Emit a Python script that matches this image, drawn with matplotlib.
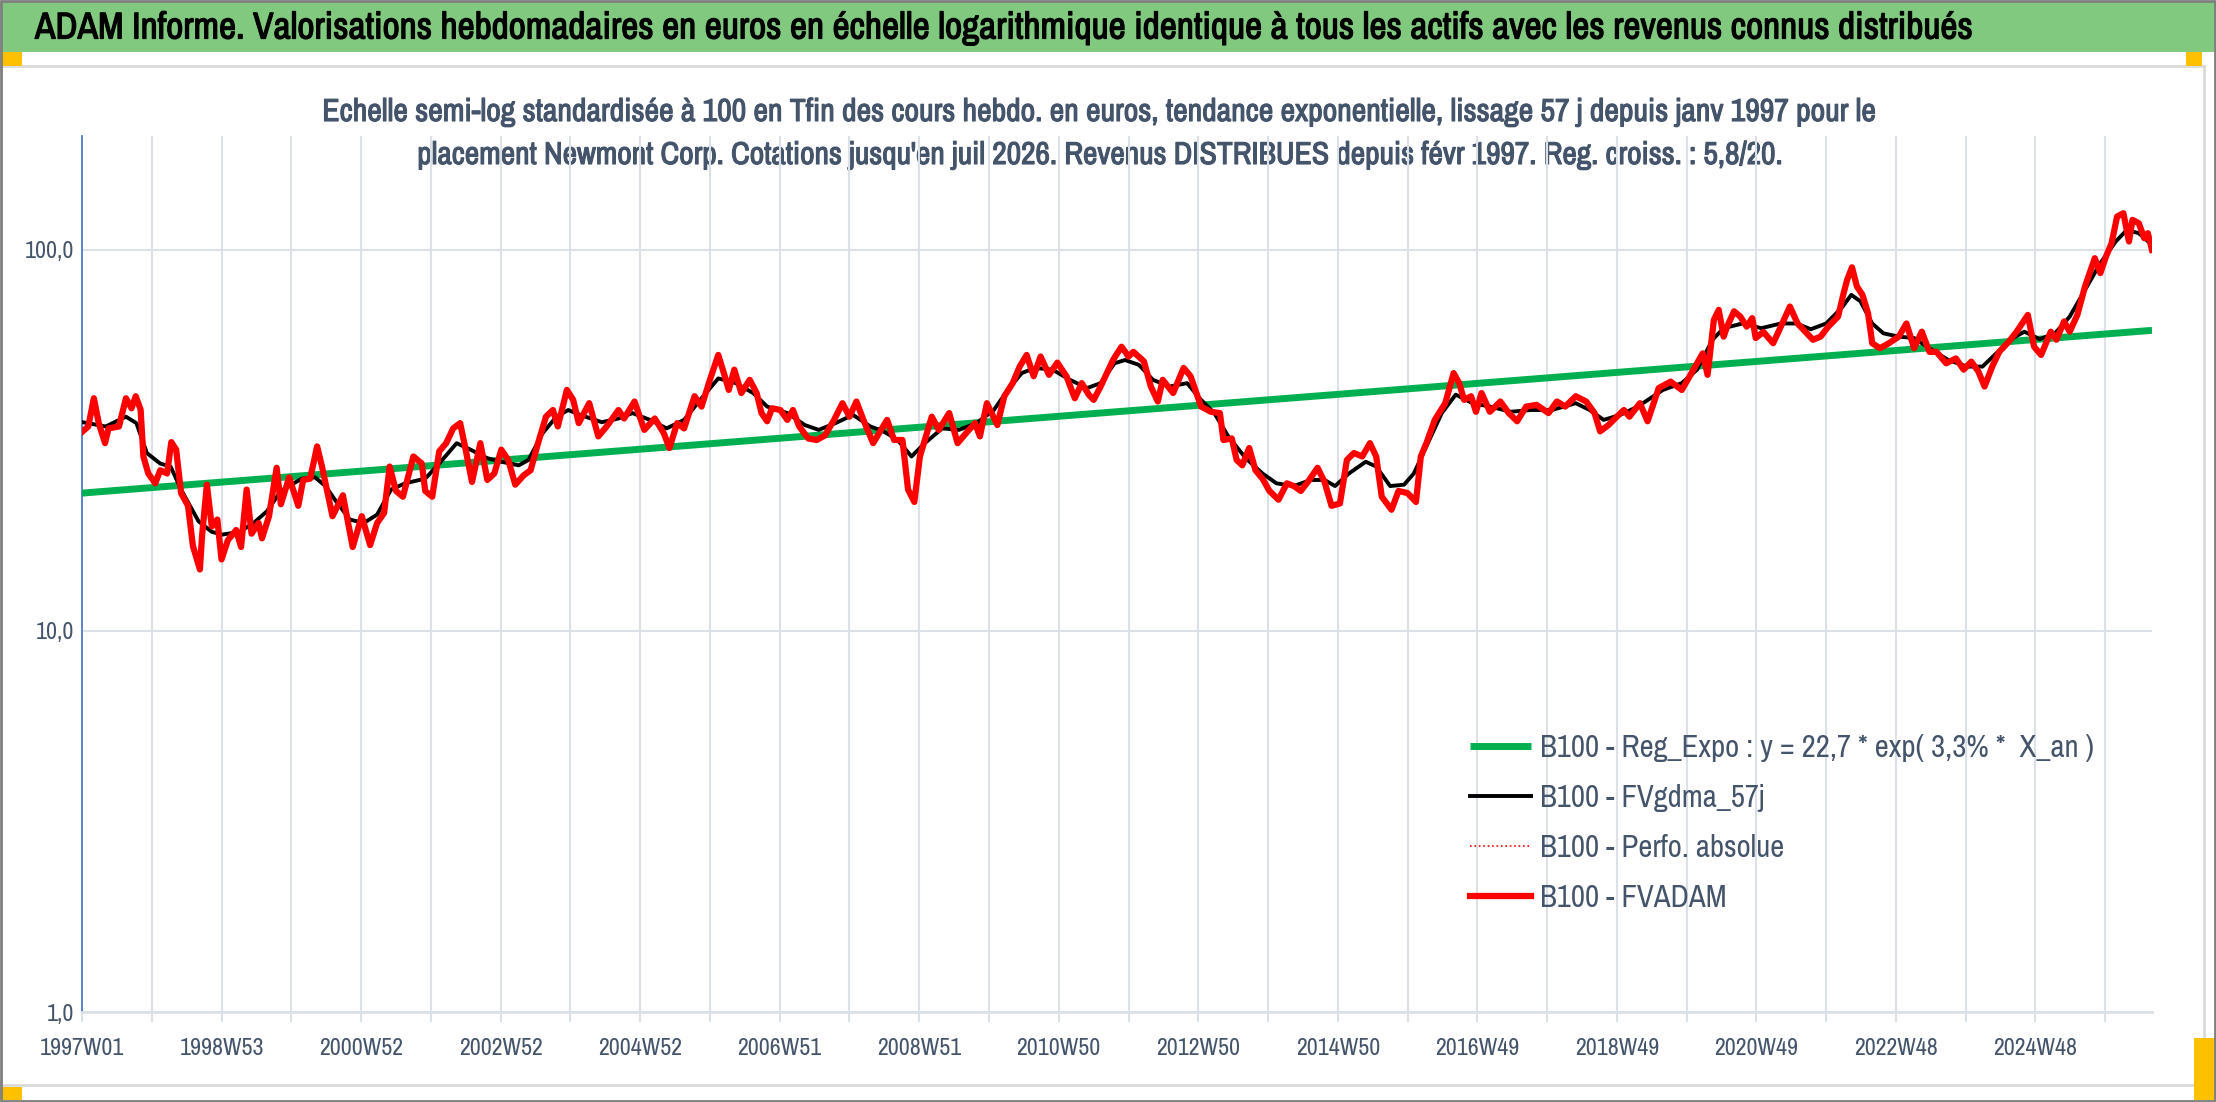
import matplotlib
matplotlib.use("Agg")
import matplotlib.pyplot as plt
from matplotlib import font_manager
from matplotlib import patheffects as pe
from matplotlib.patches import Rectangle
from matplotlib.ticker import FixedLocator, NullLocator


def pick_font():
    # narrow sans (closest to Calibri) if one is installed
    fl = font_manager.fontManager.ttflist
    for f in fl:
        if 'Narrow' in f.name or 'Condensed' in f.name:
            return f.name, 'normal'
    for f in fl:
        if f.stretch in ('condensed', 'semi-condensed', 'extra-condensed', 'ultra-condensed'):
            return f.name, f.stretch
    return 'Roboto', 'normal'


NARROW, STRETCH = pick_font()
plt.rcParams['font.family'] = [NARROW, 'Roboto', 'DejaVu Sans']
plt.rcParams['font.stretch'] = STRETCH

title = "ADAM Informe. Valorisations hebdomadaires en euros en échelle logarithmique identique à tous les actifs avec les revenus connus distribués"
subtitle_1 = "Echelle semi-log standardisée à 100 en Tfin des cours hebdo. en euros, tendance exponentielle, lissage 57 j depuis janv 1997 pour le"
subtitle_2 = "placement Newmont Corp. Cotations jusqu'en juil 2026. Revenus DISTRIBUES depuis févr 1997. Reg. croiss. : 5,8/20."

# x = position in years (52 weeks) since 1997W01
tick_labels = ['1997W01', '1998W53', '2000W52', '2002W52', '2004W52', '2006W51', '2008W51',
               '2010W50', '2012W50', '2014W50', '2016W49', '2018W49', '2020W49', '2022W48', '2024W48']

labels = ["B100 - Reg_Expo : y = 22,7 * exp( 3,3% *  X_an )", "B100 - FVgdma_57j",
          "B100 - Perfo. absolue", "B100 - FVADAM"]

reg_x = [0.0, 29.67]
reg_y = [23.0, 61.5]

adam_x = [0.01, 0.09, 0.17, 0.24, 0.33, 0.38, 0.53, 0.63, 0.71, 0.77, 0.84, 0.88, 0.95, 1.05, 1.12, 1.22,
          1.28, 1.35, 1.42, 1.52, 1.59, 1.69, 1.72, 1.79, 1.86, 1.94, 2.00, 2.09, 2.21, 2.28, 2.36, 2.43,
          2.53, 2.58, 2.68, 2.79, 2.85, 2.97, 3.10, 3.17, 3.27, 3.37, 3.44, 3.59, 3.74, 3.88, 4.01, 4.13,
          4.23, 4.33, 4.41, 4.50, 4.60, 4.75, 4.87, 4.92, 5.02, 5.12, 5.22, 5.32, 5.42, 5.49, 5.59, 5.71,
          5.81, 5.91, 6.01, 6.11, 6.21, 6.33, 6.43, 6.53, 6.65, 6.75, 6.82, 6.95, 7.04, 7.12, 7.27, 7.40,
          7.52, 7.69, 7.77, 7.92, 8.06, 8.21, 8.34, 8.42, 8.53, 8.63, 8.78, 8.88, 9.00, 9.12, 9.20, 9.27,
          9.35, 9.45, 9.57, 9.67, 9.74, 9.82, 9.89, 10.01, 10.11, 10.19, 10.28, 10.41, 10.53, 10.65, 10.78,
          10.90, 11.00, 11.10, 11.20, 11.34, 11.44, 11.54, 11.64, 11.76, 11.84, 11.93, 12.01, 12.08, 12.18,
          12.28, 12.43, 12.55, 12.67, 12.80, 12.87, 12.97, 13.12, 13.22, 13.34, 13.44, 13.54, 13.64, 13.74,
          13.86, 13.98, 14.11, 14.23, 14.33, 14.43, 14.50, 14.60, 14.78, 14.90, 15.00, 15.07, 15.22, 15.32,
          15.42, 15.49, 15.64, 15.79, 15.89, 16.04, 16.18, 16.31, 16.36, 16.48, 16.55, 16.63, 16.73, 16.82,
          16.92, 17.02, 17.15, 17.27, 17.37, 17.47, 17.57, 17.71, 17.81, 17.91, 18.03, 18.13, 18.23, 18.35,
          18.46, 18.55, 18.63, 18.77, 18.87, 19.00, 19.12, 19.19, 19.27, 19.39, 19.54, 19.66, 19.74, 19.81,
          19.91, 19.98, 20.06, 20.18, 20.33, 20.45, 20.57, 20.70, 20.85, 21.02, 21.14, 21.26, 21.41, 21.56,
          21.68, 21.76, 21.88, 22.00, 22.10, 22.18, 22.33, 22.44, 22.60, 22.77, 22.93, 23.07, 23.23, 23.30,
          23.39, 23.46, 23.53, 23.58, 23.68, 23.77, 23.86, 23.94, 23.99, 24.10, 24.24, 24.35, 24.48, 24.59,
          24.70, 24.81, 24.92, 25.03, 25.17, 25.25, 25.30, 25.37, 25.44, 25.52, 25.60, 25.66, 25.77, 25.90,
          26.04, 26.15, 26.26, 26.37, 26.48, 26.58, 26.72, 26.86, 26.97, 27.08, 27.18, 27.27, 27.38, 27.48,
          27.62, 27.73, 27.89, 27.98, 28.08, 28.22, 28.30, 28.41, 28.49, 28.60, 28.71, 28.85, 28.93, 29.01,
          29.09, 29.17, 29.26, 29.34, 29.39, 29.48, 29.56, 29.61, 29.67]
adam_y = [33.4, 34.4, 40.8, 35.1, 31.1, 34.0, 34.4, 40.8, 38.4, 41.3, 38.1, 28.7, 25.9, 24.4, 26.4, 25.9,
          31.3, 29.9, 23.0, 21.3, 16.7, 14.5, 17.7, 24.2, 18.8, 19.6, 15.4, 17.3, 18.4, 16.6, 23.5, 18.0,
          19.2, 17.5, 20.0, 26.8, 21.5, 25.3, 21.3, 24.9, 25.1, 30.5, 27.0, 20.0, 22.7, 16.6, 20.0, 16.8,
          19.2, 20.4, 27.0, 23.3, 22.5, 28.7, 27.5, 23.3, 22.5, 29.6, 31.1, 34.0, 35.1, 30.5, 24.6, 31.1,
          24.9, 25.9, 29.9, 28.1, 24.2, 25.6, 26.4, 30.8, 36.5, 38.0, 34.4, 42.9, 40.4, 35.1, 39.6, 32.4,
          34.4, 38.0, 36.1, 40.0, 33.7, 36.1, 33.0, 30.2, 35.1, 34.0, 41.3, 38.8, 45.6, 53.0, 47.5, 42.9,
          48.5, 42.1, 45.6, 42.1, 37.3, 35.5, 38.4, 38.0, 35.8, 38.0, 34.4, 32.0, 31.7, 32.6, 35.8,
          39.6, 36.5, 40.0, 35.8, 31.1, 33.4, 35.8, 31.7, 31.7, 23.5, 21.8, 28.7, 31.7, 36.5,
          33.7, 37.3, 31.1, 33.0, 35.1, 32.4, 39.6, 34.7, 41.3, 44.7, 49.4, 53.0, 46.6, 52.5,
          47.0, 50.6, 46.6, 40.8, 44.7, 41.7, 40.4, 43.8, 51.5, 55.7, 52.5, 54.0, 51.0, 43.8,
          40.0, 45.6, 42.1, 49.0, 46.6, 38.8, 37.6, 37.3, 31.7, 32.0, 28.1, 27.2, 30.2, 26.4,
          25.1, 23.3, 22.1, 24.4, 24.0, 23.3, 24.6, 26.8, 24.6, 21.3, 21.6, 28.1, 29.3, 28.7,
          31.1, 28.7, 22.5, 20.8, 23.3, 23.0, 21.8, 28.7, 31.1, 35.8, 39.6, 47.5, 44.7, 40.4,
          41.3, 37.6, 42.1, 37.6, 40.0, 37.3, 35.5, 38.8, 39.2, 37.3, 40.0, 38.8, 41.3, 40.0,
          37.3, 33.4, 34.7, 36.5, 38.0, 36.5, 39.6, 35.5, 43.4, 45.1, 42.9, 47.5, 53.5, 47.0,
          65.5, 69.6, 59.2, 62.9, 69.0, 66.8, 62.9, 66.2, 58.7, 60.9, 56.9, 62.9, 71.0, 64.1,
          61.0, 58.1, 59.2, 62.9, 66.8, 77.0, 83.4, 90.0, 80.2, 76.2, 68.2, 56.9, 55.2, 56.9,
          59.2, 64.1, 55.2, 61.0, 54.0, 54.0, 50.4, 51.9, 48.5, 50.9, 48.0, 43.8, 49.4, 54.0,
          57.5, 61.0, 67.5, 55.7, 53.0, 61.0, 58.1, 64.9, 61.0, 67.5, 80.2, 95.1, 86.9, 96.0,
          104.1, 122.3, 124.8, 105.2, 119.9, 117.5, 107.3, 110.6, 100.0]

gdma_x = [0.01, 0.34, 0.63, 0.78, 0.93, 1.12, 1.27, 1.42, 1.67, 1.86, 2.01, 2.26, 2.46, 2.65, 2.85, 3.15,
          3.34, 3.49, 3.64, 3.84, 4.04, 4.23, 4.43, 4.63, 4.92, 5.12, 5.37, 5.57, 5.81, 6.01, 6.26, 6.40,
          6.60, 6.80, 6.97, 7.14, 7.45, 7.69, 7.89, 8.14, 8.38, 8.63, 8.88, 9.12, 9.37, 9.62, 9.82, 10.11,
          10.36, 10.56, 10.80, 11.05, 11.30, 11.49, 11.69, 11.89, 12.08, 12.33, 12.57, 12.82, 13.07, 13.27,
          13.47, 13.66, 13.91, 14.16, 14.41, 14.60, 14.80, 14.95, 15.15, 15.35, 15.59, 15.84, 16.04, 16.23,
          16.43, 16.68, 16.92, 17.12, 17.37, 17.61, 17.81, 17.96, 18.16, 18.40, 18.55, 18.75, 18.95, 19.09,
          19.29, 19.49, 19.69, 19.93, 20.18, 20.48, 20.77, 21.07, 21.41, 21.61, 21.81, 22.05, 22.30, 22.66,
          22.93, 23.15, 23.37, 23.53, 23.80, 24.07, 24.35, 24.57, 24.78, 25.00, 25.22, 25.36, 25.49, 25.66,
          25.82, 26.04, 26.26, 26.48, 26.75, 27.02, 27.24, 27.46, 27.68, 27.84, 28.06, 28.28, 28.49, 28.71,
          28.93, 29.15, 29.31, 29.48, 29.67]
gdma_y = [35.3, 34.4, 36.5, 35.1, 29.3, 27.5, 27.0, 23.5, 19.4, 18.2, 17.9, 18.2, 19.2, 20.6, 23.3, 25.1,
          25.3, 24.0, 21.9, 19.6, 19.2, 20.2, 23.5, 24.4, 25.1, 27.5, 31.1, 29.9, 28.4, 27.8, 27.2, 28.1,
          33.0, 36.5, 38.0, 36.9, 35.3, 36.1, 37.3, 35.8, 34.0, 35.8, 40.8, 46.0, 44.7, 42.1, 38.8, 37.3,
          34.7, 33.7, 35.1, 36.9, 34.4, 33.4, 31.7, 28.7, 31.1, 34.0, 33.7, 35.1, 38.0, 42.9,
          47.5, 49.0, 48.5, 45.6, 43.4, 44.7, 50.4, 51.4, 49.9, 45.6, 43.8, 44.7, 40.4, 37.3,
          32.4, 28.4, 25.9, 24.4, 24.0, 24.9, 24.9, 24.0, 25.9, 27.8, 27.0, 24.0, 24.2, 25.9,
          31.1, 37.3, 41.7, 39.6, 38.8, 37.6, 38.0, 38.0, 39.6, 38.0, 35.8, 36.9, 38.8, 42.9,
          44.7, 48.5, 58.1, 62.3, 64.1, 62.3, 64.1, 64.1, 61.9, 64.1, 70.4, 76.2, 73.3, 64.1,
          60.4, 59.2, 58.7, 55.2, 51.4, 49.4, 49.4, 54.0, 58.7, 61.0, 58.3, 60.4, 66.8, 78.5,
          92.3, 105.2, 112.8, 110.6, 103.1]

W, H = 2216, 1102
fig = plt.figure(figsize=(W / 100, H / 100), dpi=100)
renderer = fig.canvas.get_renderer()


def size_for(s, width, **kw):
    # font size that gives the text the wanted pixel width
    t = fig.text(0, 0, s, fontsize=20, **kw)
    w = t.get_window_extent(renderer).width
    t.remove()
    return 20 * width / w


# background layer in pixel coordinates
bg = fig.add_axes([0, 0, 1, 1], zorder=0)
bg.set_xlim(0, W)
bg.set_ylim(H, 0)
bg.axis('off')
bg.add_patch(Rectangle((0, 2), W, 50, facecolor='#80C97F', edgecolor='none'))
bg.add_patch(Rectangle((1, 66), 2203, 1019, facecolor='white', edgecolor='#D9D9D9', linewidth=2))
bg.add_patch(Rectangle((0, 52), 22, 14, facecolor='#FFC000', edgecolor='none'))
bg.add_patch(Rectangle((0, 1087), 22, 13, facecolor='#FFC000', edgecolor='none'))
bg.add_patch(Rectangle((2186, 52), 16, 14, facecolor='#FFC000', edgecolor='none'))
bg.add_patch(Rectangle((2194, 1038), 22, 62, facecolor='#FFC000', edgecolor='none'))
bg.add_patch(Rectangle((1, 1), W - 2, H - 2, facecolor='none', edgecolor='#7F7F7F', linewidth=2))

sub_c = '#44546A'
bg.text(35, 28, title, fontsize=size_for(title, 1936), color='black', ha='left', va='center',
        path_effects=[pe.withStroke(linewidth=0.9, foreground='black')])
bg.text(1099, 112, subtitle_1, fontsize=size_for(subtitle_1, 1552, weight='bold'), color=sub_c,
        ha='center', va='center', weight='bold', path_effects=[pe.withStroke(linewidth=0.8, foreground=sub_c)])
bg.text(1100, 155, subtitle_2, fontsize=size_for(subtitle_2, 1365, weight='bold'), color=sub_c,
        ha='center', va='center', weight='bold', path_effects=[pe.withStroke(linewidth=0.8, foreground=sub_c)])

# plot area
x0, x1, y0, y1 = 82, 2152, 136, 1012
ax = fig.add_axes([x0 / W, 1 - y1 / H, (x1 - x0) / W, (y1 - y0) / H], zorder=1)
ax.set_facecolor('none')

grid_c = '#DCE1E8'
ax.plot(reg_x, reg_y, color='#00B050', linewidth=5, solid_capstyle='butt', zorder=3, label=labels[0])
ax.plot(gdma_x, gdma_y, color='black', linewidth=2.8, zorder=4, label=labels[1])
ax.plot(adam_x, adam_y, color='#FF0000', linewidth=1.2, linestyle=':', zorder=2, label=labels[2])
ax.plot(adam_x, adam_y, color='#FF0000', linewidth=4.5, zorder=5, label=labels[3])

ax.set_yscale('log')
ax.set_ylim(1, 199)
ax.set_xlim(0, 29.67)
ax.yaxis.set_major_locator(FixedLocator([1, 10, 100]))
ax.yaxis.set_minor_locator(NullLocator())
ax.set_yticklabels(['1,0', '10,0', '100,0'])
ax.xaxis.set_major_locator(FixedLocator(list(range(0, 30))))
ax.set_xticklabels([tick_labels[i // 2] if i % 2 == 0 else '' for i in range(0, 30)])

tick_fs = size_for('1997W01', 84)
ax.grid(True, color=grid_c, linewidth=1.5, zorder=0)
ax.set_axisbelow(True)
for s in ['top', 'right']:
    ax.spines[s].set_visible(False)
ax.spines['left'].set_color('#4472C4')
ax.spines['left'].set_linewidth(1.2)
ax.spines['bottom'].set_color(grid_c)
ax.spines['bottom'].set_linewidth(2)
ax.tick_params(axis='x', direction='out', length=7, width=1.5, color=grid_c,
               labelsize=tick_fs, labelcolor=sub_c, pad=12)
ax.tick_params(axis='y', length=0, labelsize=tick_fs, labelcolor=sub_c, pad=6)

leg_fs = size_for(labels[0], 554)
leg_px = leg_fs * 100 / 72
lines = ax.get_lines()
leg_kw = dict(loc='upper left', bbox_transform=fig.transFigure, frameon=False, fontsize=leg_fs,
              handlelength=61 / leg_px, handletextpad=9 / leg_px, borderpad=0, borderaxespad=0)
spacing = 0.8
leg = ax.legend(lines, labels, bbox_to_anchor=(1470 / W, 1 - 735 / H), labelspacing=spacing, **leg_kw)
fig.canvas.draw()
tx = leg.get_texts()
pitch = tx[0].get_window_extent(renderer).y0 - tx[1].get_window_extent(renderer).y0
spacing += (50 - pitch) / leg_px
leg.remove()
leg = ax.legend(lines, labels, bbox_to_anchor=(1470 / W, 1 - 735 / H), labelspacing=spacing, **leg_kw)
fig.canvas.draw()
e = leg.get_texts()[0].get_window_extent(renderer)
cy = H - (e.y0 + e.y1) / 2
leg.remove()
leg = ax.legend(lines, labels, bbox_to_anchor=(1470 / W, 1 - (735 - (cy - 748)) / H), labelspacing=spacing,
                **leg_kw)
for t in leg.get_texts():
    t.set_color(sub_c)

fig.savefig('out.png', dpi=100)
